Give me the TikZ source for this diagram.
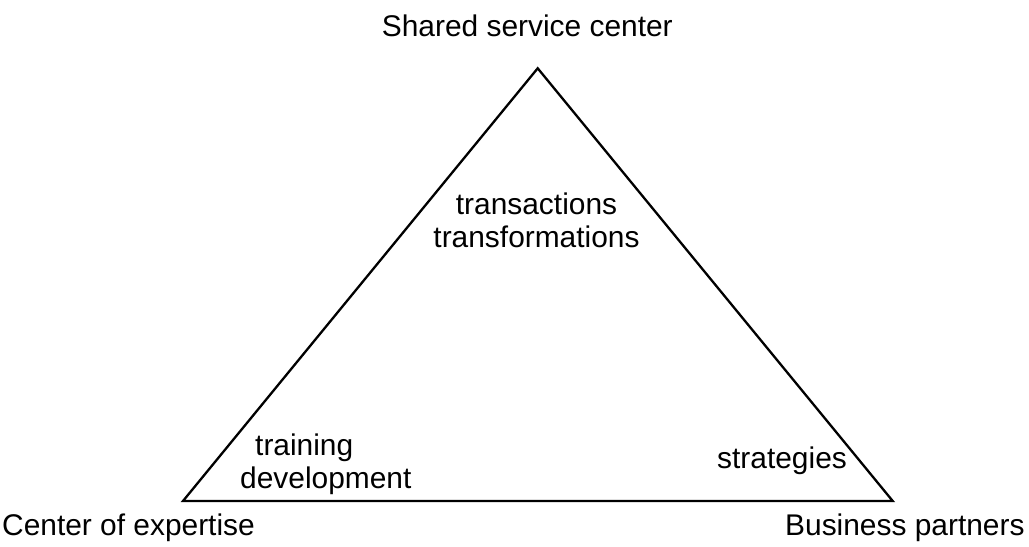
\documentclass[tikz,border=0pt]{standalone}
\usepackage{fontspec}
\setmainfont{Liberation Sans}
\begin{document}
\begin{tikzpicture}[x=1bp,y=-1bp,
  lbl/.style={inner sep=0pt,font=\fontsize{29.9bp}{33bp}\selectfont},
  edge/.style={line width=2.3bp,line join=miter,black}]
\useasboundingbox (0,0) rectangle (1029,547);
\coordinate (top) at (537.7,68.3);
\coordinate (bl) at (183,501);
\coordinate (br) at (892.7,501);
\draw[edge] (top) -- (br) -- (bl) -- cycle;
\node[lbl,anchor=base] (ssc) at (527.3,37) {Shared service center};
\node[lbl,anchor=base] (t1) at (536.5,215) {transactions};
\node[lbl,anchor=base] (t2) at (536.5,248) {transformations};
\node[lbl,anchor=base west] (tr) at (255,455) {training};
\node[lbl,anchor=base west] (dv) at (240,488) {development};
\node[lbl,anchor=base west] (st) at (717,468) {strategies};
\node[lbl,anchor=base west] (coe) at (2,535) {Center of expertise};
\node[lbl,anchor=base west] (bp) at (785,535) {Business partners};
\end{tikzpicture}
\end{document}
